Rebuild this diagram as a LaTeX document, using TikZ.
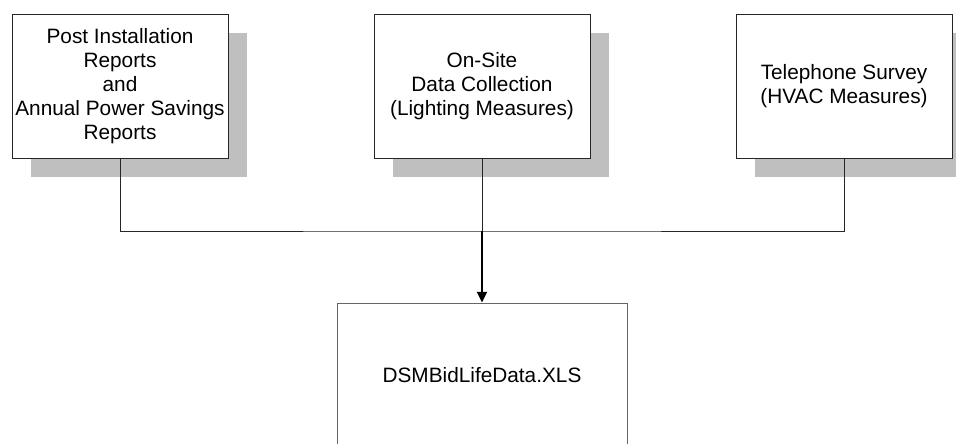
\documentclass[tikz,border=0pt]{standalone}
\usepackage{fontspec}
\setmainfont{Liberation Sans}
\usetikzlibrary{positioning,shadows,arrows.meta}

\begin{document}
\begin{tikzpicture}[x=0.75pt,y=-0.75pt,
    srcbox/.style={draw=black!85,line width=0.75pt,fill=white,
      minimum width=162pt,minimum height=108pt,inner sep=0.5pt,align=center,
      font=\fontsize{15.6}{18}\selectfont,
      drop shadow={shadow xshift=14.25pt,shadow yshift=-14.25pt,fill=black!25,opacity=1}},
    outbox/.style={draw=black!60,line width=0.75pt,fill=white,
      minimum width=217.5pt,minimum height=108pt,align=center,
      font=\fontsize{15.6}{18}\selectfont},
    feed/.style={draw=black!85,line width=0.75pt},
    flow/.style={draw=black,line width=1.5pt,-{Triangle[width=7.5pt,length=8pt]}}]
      \useasboundingbox (0,0) rectangle (956,443);
      % Sources
      \node[srcbox] (reports) at (120,86) {Post Installation\\Reports\\and\\Annual Power Savings\\Reports};
      \node[srcbox] (onsite) at (482,86) {On-Site\\Data Collection\\(Lighting Measures)};
      \node[srcbox] (phone) at (844,86) {Telephone Survey\\(HVAC Measures)};
      % Output file
      \node[outbox] (dsm) at (482,375) {DSMBidLifeData.XLS};
      % Connectors
      \coordinate (merge) at (482,231);
      \draw[feed] (reports.south) |- (merge) -| (phone.south);
      \draw[feed] (onsite.south) -- (merge);
      \draw[flow] (merge) -- (dsm.north);
    \end{tikzpicture}
\end{document}
